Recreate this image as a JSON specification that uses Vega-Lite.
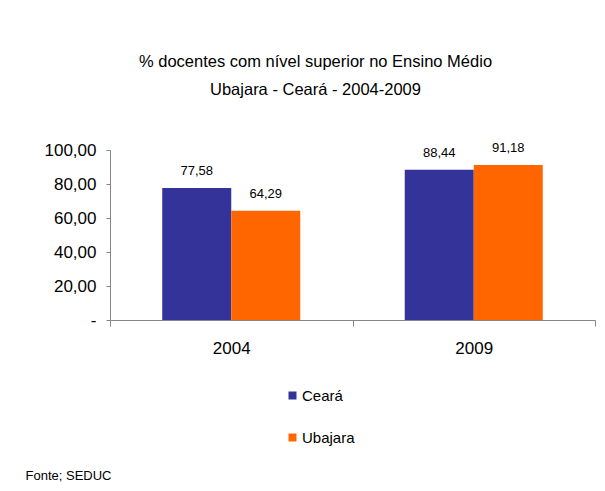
{
  "$schema": "https://vega.github.io/schema/vega-lite/v6.json",
  "width": 485,
  "height": 170,
  "autosize": {"type": "none"},
  "padding": {"left": 110, "top": 150, "right": 10, "bottom": 171},
  "background": "white",
  "config": {
    "locale": {"number": {"decimal": ",", "thousands": ".", "grouping": [3], "currency": ["R$", ""]}},
    "font": "Liberation Sans, Arial, sans-serif",
    "view": {"stroke": null}
  },
  "title": {
    "text": ["% docentes com nível  superior no Ensino Médio", "Ubajara  -  Ceará - 2004-2009"],
    "fontSize": 16.5,
    "fontWeight": "normal",
    "color": "black",
    "anchor": "middle",
    "frame": "group",
    "dx": -37,
    "offset": 43,
    "lineHeight": 28
  },
  "data": {
    "values": [
      {"ano": "2004", "regiao": "Ceará", "valor": 77.58},
      {"ano": "2004", "regiao": "Ubajara", "valor": 64.29},
      {"ano": "2009", "regiao": "Ceará", "valor": 88.44},
      {"ano": "2009", "regiao": "Ubajara", "valor": 91.18}
    ]
  },
  "encoding": {
    "x": {
      "field": "ano",
      "type": "nominal",
      "scale": {"paddingInner": 0, "paddingOuter": 0},
      "axis": {
        "title": "Fonte; SEDUC",
        "titleX": -85,
        "titleY": 155,
        "titleAlign": "left",
        "titleBaseline": "middle",
        "titleFontSize": 13,
        "titleFontWeight": "normal",
        "titleColor": "black",
        "labelAngle": 0,
        "labelFontSize": 17,
        "labelColor": "black",
        "labelPadding": 14,
        "tickBand": "extent",
        "tickSize": 6,
        "tickColor": "#868686",
        "domainColor": "#868686",
        "grid": false
      }
    },
    "xOffset": {
      "field": "regiao",
      "type": "nominal",
      "sort": ["Ceará", "Ubajara"],
      "scale": {"paddingInner": 0, "paddingOuter": 0.757}
    },
    "y": {
      "field": "valor",
      "type": "quantitative",
      "scale": {"domain": [0, 100], "nice": false},
      "axis": {
        "title": null,
        "values": [0, 20, 40, 60, 80, 100],
        "format": ".2f",
        "labelExpr": "datum.value === 0 ? '-' : datum.label",
        "labelFontSize": 17,
        "labelColor": "black",
        "labelPadding": 10,
        "tickSize": 4,
        "tickColor": "#868686",
        "domainColor": "#868686",
        "grid": false
      }
    }
  },
  "layer": [
    {
      "mark": {"type": "bar"},
      "encoding": {
        "color": {
          "field": "regiao",
          "type": "nominal",
          "sort": ["Ceará", "Ubajara"],
          "scale": {"domain": ["Ceará", "Ubajara"], "range": ["#333399", "#FF6600"]},
          "legend": {
            "title": null,
            "orient": "none",
            "legendX": 175,
            "legendY": 238,
            "direction": "vertical",
            "symbolType": "square",
            "symbolSize": 64,
            "symbolStrokeWidth": 0,
            "labelFontSize": 15,
            "labelColor": "black",
            "labelOffset": 2,
            "rowPadding": 26
          }
        }
      }
    },
    {
      "mark": {"type": "text", "baseline": "bottom", "dy": -10, "fontSize": 13, "color": "black"},
      "encoding": {
        "text": {"field": "valor", "type": "quantitative", "format": ".2f"}
      }
    }
  ]
}
